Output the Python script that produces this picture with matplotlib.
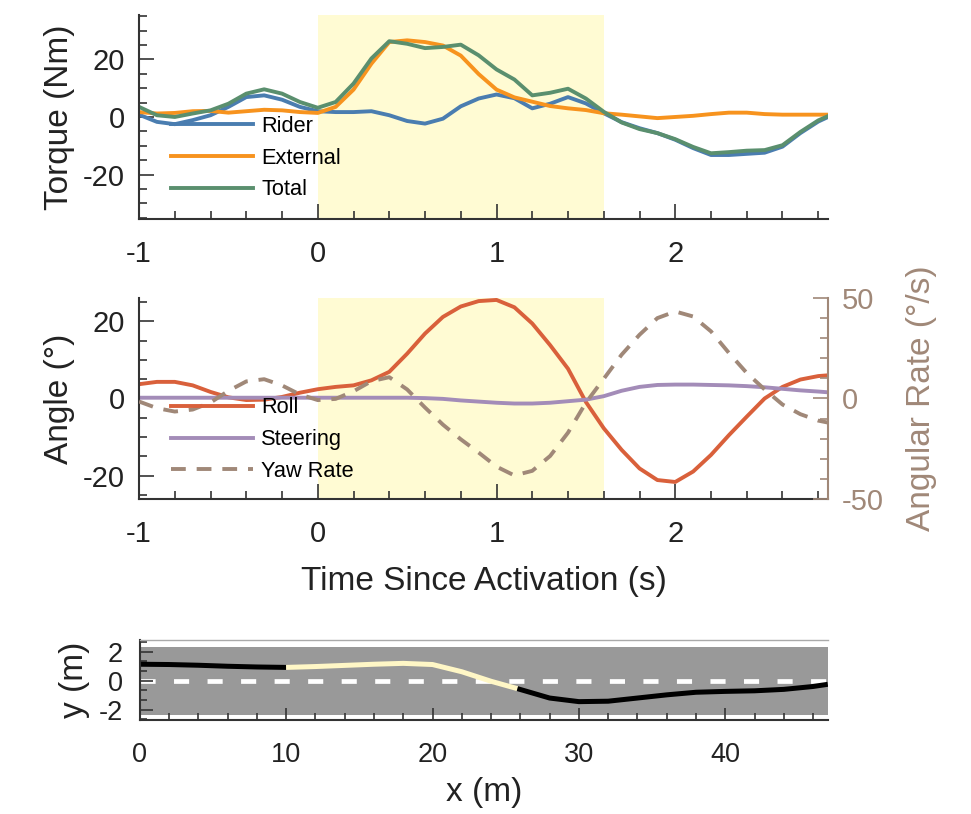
import matplotlib.pyplot as plt
from matplotlib.ticker import MultipleLocator
import numpy as np

plt.rcParams['font.family'] = ['Liberation Sans', 'DejaVu Sans']
plt.rcParams['axes.unicode_minus'] = False

# time axis (s) shared by the two upper panels
t = [-1.0, -0.9, -0.8, -0.7, -0.6, -0.5, -0.4, -0.3, -0.2, -0.1,
     0.0, 0.1, 0.2, 0.3, 0.4, 0.5, 0.6, 0.7, 0.8, 0.9,
     1.0, 1.1, 1.2, 1.3, 1.4, 1.5, 1.6, 1.7, 1.8, 1.9,
     2.0, 2.1, 2.2, 2.3, 2.4, 2.5, 2.6, 2.7, 2.8, 2.855]

# torques (Nm)
rider = [0.8, -1.7, -2.5, -1.1, 0.6, 3.5, 6.9, 7.5, 6.0, 3.5,
         2.0, 1.7, 1.7, 2.0, 0.6, -1.4, -2.3, -0.6, 3.7, 6.4,
         7.8, 6.5, 3.0, 4.6, 6.9, 4.7, 1.3, -1.8, -3.9, -5.6,
         -7.9, -10.8, -13.2, -13.2, -12.8, -12.4, -10.3, -5.6, -1.6, 0.0]
external = [1.7, 1.2, 1.4, 2.0, 2.1, 1.5, 2.0, 2.5, 2.3, 1.7,
            1.4, 3.5, 9.5, 18.5, 26.0, 26.6, 26.0, 24.8, 21.3, 14.9,
            9.5, 6.8, 5.3, 3.8, 3.0, 2.4, 1.3, 0.8, 0.2, -0.4,
            0.0, 0.4, 1.0, 1.5, 1.5, 1.0, 0.8, 0.8, 0.8, 0.8]
total = [3.5, 0.6, 0.0, 1.2, 2.3, 4.6, 8.1, 9.6, 8.1, 5.2,
         3.2, 5.2, 11.6, 20.3, 26.3, 25.4, 23.9, 24.3, 25.1, 21.4,
         16.5, 13.0, 7.5, 8.4, 9.8, 6.4, 1.8, -1.9, -4.2, -5.6,
         -7.7, -10.4, -12.6, -12.2, -11.7, -11.5, -9.8, -5.2, -1.2, 0.3]

# angles (deg) and yaw rate (deg/s)
roll = [3.7, 4.3, 4.3, 3.4, 1.7, 0.3, -0.4, -0.3, 0.4, 1.5,
        2.4, 3.0, 3.4, 4.7, 6.9, 11.6, 16.8, 21.1, 23.8, 25.2,
        25.5, 23.6, 19.4, 13.8, 7.7, -0.9, -7.7, -13.3, -18.1, -21.1,
        -21.6, -18.9, -14.6, -9.5, -4.7, 0.0, 3.0, 4.9, 5.8, 6.0]
steering = [0.2, 0.2, 0.2, 0.2, 0.2, 0.2, 0.2, 0.2, 0.2, 0.2,
            0.2, 0.2, 0.2, 0.2, 0.2, 0.2, 0.1, -0.1, -0.5, -0.8,
            -1.1, -1.3, -1.3, -1.1, -0.7, -0.3, 0.6, 2.0, 3.0, 3.5,
            3.6, 3.6, 3.5, 3.4, 3.2, 2.9, 2.5, 2.1, 1.8, 1.6]
yaw_rate = [-1.5, -4.8, -6.5, -5.5, -2.0, 3.8, 8.5, 9.6, 6.5, 2.0,
            -0.8, -0.2, 3.6, 8.6, 10.6, 4.5, -4.5, -13.0, -20.3, -26.9,
            -33.9, -38.3, -36.0, -28.6, -17.0, -2.1, 9.8, 21.8, 31.7, 40.0,
            43.3, 40.8, 33.4, 22.7, 12.7, 4.5, -3.0, -7.8, -11.0, -12.0]

# trajectory (m)
traj_x = [0, 2, 4, 6, 8, 10, 12, 14, 16, 18, 20, 22, 24, 25.8,
          28, 30, 32, 34, 36, 38, 40, 42, 44, 46, 47]
traj_y = [1.14, 1.12, 1.07, 1.0, 0.95, 0.92, 0.98, 1.06, 1.14, 1.2, 1.12, 0.62, -0.04, -0.55,
          -1.2, -1.45, -1.42, -1.2, -0.98, -0.8, -0.74, -0.7, -0.6, -0.4, -0.25]

active = (0, 1.6)          # activation window (s)
active_x = (10, 25.8)      # same window along the road (m)

C_RIDER = '#4A7DB0'
C_EXT = '#F7931E'
C_TOT = '#5A8F6E'
C_ROLL = '#D9603B'
C_STEER = '#A38CB8'
C_YAW = '#A08878'
C_SHADE = '#FFFBD3'
TXT = '#222222'
LW = 2.8

fig = plt.figure(figsize=(9.71, 8.14), dpi=100)


def style_axis(ax, size=21):
    for s in ('top', 'right'):
        ax.spines[s].set_visible(False)
    for s in ('left', 'bottom'):
        ax.spines[s].set_linewidth(1.5)
        ax.spines[s].set_color('#333333')
    ax.tick_params(which='both', direction='in', colors='#333333', labelcolor=TXT,
                   labelsize=size, width=1.2)
    ax.tick_params(which='major', length=11)
    ax.tick_params(which='minor', length=6)
    ax.tick_params(axis='x', pad=15)
    ax.tick_params(axis='y', pad=10)


def add_legend(ax, handles):
    ax.legend(handles=handles, loc='upper left', bbox_to_anchor=(0.046, 0.505),
              frameon=False, fontsize=15.7, handlelength=3.75, handletextpad=0.4,
              labelspacing=0.49, borderpad=0, borderaxespad=0)


# ---- torque panel
ax1 = fig.add_axes([0.1432, 0.7310, 0.7096, 0.2506])
ax1.axvspan(*active, color=C_SHADE, lw=0, zorder=0)
h1 = ax1.plot(t, rider, color=C_RIDER, lw=LW, label='Rider', solid_joinstyle='round')
h2 = ax1.plot(t, external, color=C_EXT, lw=LW, label='External', solid_joinstyle='round')
h3 = ax1.plot(t, total, color=C_TOT, lw=LW, label='Total', solid_joinstyle='round')
ax1.set_xlim(-1, 2.855)
ax1.set_ylim(-35.4, 35.4)
ax1.xaxis.set_major_locator(MultipleLocator(1))
ax1.xaxis.set_minor_locator(MultipleLocator(0.2))
ax1.yaxis.set_major_locator(MultipleLocator(20))
ax1.yaxis.set_minor_locator(MultipleLocator(5))
style_axis(ax1)
ax1.set_ylabel('Torque (Nm)', fontsize=24, color=TXT, labelpad=6)
add_legend(ax1, h1 + h2 + h3)

# ---- angle panel
ax2 = fig.add_axes([0.1432, 0.3870, 0.7096, 0.2469])
ax2.axvspan(*active, color=C_SHADE, lw=0, zorder=0)
l_roll, = ax2.plot(t, roll, color=C_ROLL, lw=LW, label='Roll', solid_joinstyle='round')
l_steer, = ax2.plot(t, steering, color=C_STEER, lw=LW, label='Steering', solid_joinstyle='round')
ax2.set_xlim(-1, 2.855)
ax2.set_ylim(-26, 26)
ax2.xaxis.set_major_locator(MultipleLocator(1))
ax2.xaxis.set_minor_locator(MultipleLocator(0.2))
ax2.yaxis.set_major_locator(MultipleLocator(20))
ax2.yaxis.set_minor_locator(MultipleLocator(5))
style_axis(ax2)
ax2.set_ylabel('Angle (°)', fontsize=24, color=TXT, labelpad=6)
ax2.set_xlabel('Time Since Activation (s)', fontsize=24, color=TXT, labelpad=13)

ax2r = ax2.twinx()
l_yaw, = ax2r.plot(t, yaw_rate, color=C_YAW, lw=LW, ls=(0, (3.8, 2.8)), label='Yaw Rate')
ax2r.set_ylim(-50, 50)
ax2r.yaxis.set_major_locator(MultipleLocator(50))
ax2r.yaxis.set_minor_locator(MultipleLocator(10))
for s in ('top', 'left', 'bottom'):
    ax2r.spines[s].set_visible(False)
ax2r.spines['right'].set_color(C_YAW)
ax2r.spines['right'].set_linewidth(1.5)
ax2r.tick_params(which='both', direction='in', colors=C_YAW, labelsize=21, width=1.2, pad=10)
ax2r.tick_params(which='major', length=11)
ax2r.tick_params(which='minor', length=6)
ax2r.set_ylabel('Angular Rate (°/s)', fontsize=24, color=C_YAW, labelpad=16)
add_legend(ax2r, [l_roll, l_steer, l_yaw])

# ---- trajectory panel
ax3 = fig.add_axes([0.1439, 0.1155, 0.7086, 0.0983])
ax3.axhspan(-2.35, 2.35, color='#999999', lw=0, zorder=0)
ax3.plot([0, 47], [0, 0], color='white', lw=3.4, ls=(0, (3.2, 3.9)), zorder=1)
tx = np.array(traj_x)
ty = np.array(traj_y)
pre = tx <= active_x[0]
mid = (tx >= active_x[0]) & (tx <= active_x[1])
post = tx >= active_x[1]
ax3.plot(tx[pre], ty[pre], color='black', lw=3.6, solid_capstyle='butt', zorder=2)
ax3.plot(tx[mid], ty[mid], color='#FFF7C6', lw=3.6, solid_capstyle='butt', zorder=2)
ax3.plot(tx[post], ty[post], color='black', lw=3.6, solid_capstyle='butt', zorder=2)
ax3.set_xlim(0, 47)
ax3.set_ylim(-2.72, 2.82)
ax3.xaxis.set_major_locator(MultipleLocator(10))
ax3.xaxis.set_minor_locator(MultipleLocator(2))
ax3.yaxis.set_major_locator(MultipleLocator(2))
ax3.yaxis.set_minor_locator(MultipleLocator(2 / 3))
style_axis(ax3, size=19.5)
ax3.spines['top'].set_visible(True)
ax3.spines['top'].set_color('#AAAAAA')
ax3.spines['top'].set_linewidth(1.0)
ax3.tick_params(axis='x', pad=16)
ax3.tick_params(axis='y', pad=12)
ax3.tick_params(which='major', length=9)
ax3.tick_params(which='minor', length=5)
ax3.set_xlabel('x (m)', fontsize=24, color=TXT, labelpad=6)
ax3.set_ylabel('y (m)', fontsize=24, color=TXT, labelpad=6)

fig.savefig('out.png', dpi=100)
